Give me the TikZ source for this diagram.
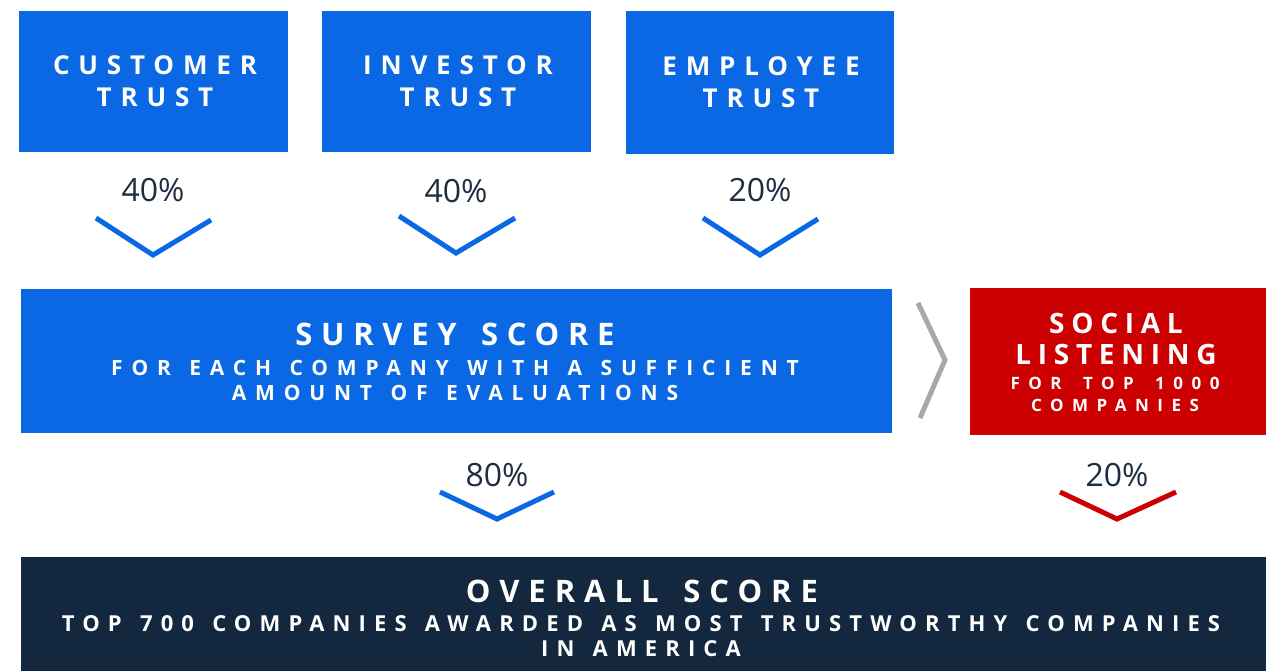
\documentclass[tikz,border=0pt]{standalone}
\usepackage{fontspec}
\setmainfont{Open Sans}
\definecolor{tblue}{HTML}{0A68E5}
\definecolor{tred}{HTML}{CC0000}
\definecolor{tnavy}{HTML}{13273F}
\definecolor{tgray}{HTML}{A8A8A8}
\definecolor{ttext}{HTML}{1E2D40}
\newcommand{\lsp}[3]{\fontsize{#1}{#1}\selectfont\bfseries\addfontfeature{LetterSpace=#2}#3}
\newcommand{\ws}[1]{\hspace{#1em}}
\tikzset{
  box/.style={draw=none, inner sep=0pt, anchor=north west},
  lbl/.style={anchor=base, inner sep=0pt, text=white},
  pct/.style={anchor=base, inner sep=0pt, text=ttext, font=\fontsize{32}{32}\selectfont},
  chev/.style={line width=5pt, line cap=butt, line join=miter},
}
\begin{document}
\begin{tikzpicture}[x=1pt,y=-1pt]
\useasboundingbox (0,0) rectangle (1271,671);
% top boxes
\node[box, fill=tblue, minimum width=269pt, minimum height=141pt] (cust) at (19,11) {};
\node[box, fill=tblue, minimum width=269pt, minimum height=141pt] (inv) at (322,11) {};
\node[box, fill=tblue, minimum width=268pt, minimum height=143pt] (emp) at (626,11) {};
\node[lbl] (cust1) at (155,75) {\lsp{26}{34}{CUSTOMER}};
\node[lbl] (cust2) at (155,107) {\lsp{26}{34}{TRUST}};
\node[lbl] (inv1) at (458,75) {\lsp{26}{34}{INVESTOR}};
\node[lbl] (inv2) at (458,107) {\lsp{26}{34}{TRUST}};
\node[lbl] (emp1) at (761,76) {\lsp{26}{34}{EMPLOYEE}};
\node[lbl] (emp2) at (761,108) {\lsp{26}{34}{TRUST}};
% percentages
\node[pct] (p1) at (153,201) {40\%};
\node[pct] (p2) at (456,203) {40\%};
\node[pct] (p3) at (760,201) {20\%};
% chevrons
\coordinate (c1a) at (96,218); \coordinate (c1b) at (153,255); \coordinate (c1c) at (211,220);
\coordinate (c2a) at (399,216); \coordinate (c2b) at (456,253); \coordinate (c2c) at (515,218);
\coordinate (c3a) at (703,218); \coordinate (c3b) at (760,255); \coordinate (c3c) at (818,219);
\draw[chev, tblue] (c1a) -- (c1b) -- (c1c);
\draw[chev, tblue] (c2a) -- (c2b) -- (c2c);
\draw[chev, tblue] (c3a) -- (c3b) -- (c3c);
% survey
\node[box, fill=tblue, minimum width=871pt, minimum height=144pt] (survey) at (21,289) {};
\node[lbl] (s1) at (455,345) {\lsp{31}{28}{SURVEY \ws{0.25}SCORE}};
\node[lbl] (s2) at (455,375) {\lsp{21}{42}{FOR \ws{0.2}EACH \ws{0.2}COMPANY \ws{0.2}WITH \ws{0.2}A \ws{0.2}SUFFICIENT}};
\node[lbl] (s3) at (455,400) {\lsp{21}{42}{AMOUNT \ws{0.2}OF \ws{0.2}EVALUATIONS}};
% gray chevron
\coordinate (g1) at (918,303); \coordinate (g2) at (945,360); \coordinate (g3) at (920,418);
\draw[chev, tgray] (g1) -- (g2) -- (g3);
% social
\node[box, fill=tred, minimum width=296pt, minimum height=147pt] (social) at (970,288) {};
\node[lbl] (so1) at (1116,333) {\lsp{28}{24}{SOCIAL}};
\node[lbl] (so2) at (1116,364) {\lsp{28}{24}{LISTENING}};
\node[lbl] (so3) at (1115,389) {\lsp{17}{50}{FOR \ws{0.5}TOP \ws{0.5}1000}};
\node[lbl] (so4) at (1115,411) {\lsp{17}{50}{COMPANIES}};
% lower percentages
\node[pct] (p4) at (497,486) {80\%};
\node[pct] (p5) at (1117,486) {20\%};
\coordinate (c4a) at (440,492); \coordinate (c4b) at (497,519); \coordinate (c4c) at (554,492);
\coordinate (c5a) at (1060,492); \coordinate (c5b) at (1117,519); \coordinate (c5c) at (1176,492);
\draw[chev, tblue] (c4a) -- (c4b) -- (c4c);
\draw[chev, tred] (c5a) -- (c5b) -- (c5c);
% overall
\node[box, fill=tnavy, minimum width=1245pt, minimum height=114pt] (overall) at (21,557) {};
\node[lbl] (o1) at (642,602) {\lsp{31}{29}{OVERALL \ws{0.25}SCORE}};
\node[lbl] (o2) at (641,631) {\lsp{22}{37}{TOP \ws{0.2}700 \ws{0.2}COMPANIES \ws{0.2}AWARDED \ws{0.2}AS \ws{0.2}MOST \ws{0.2}TRUSTWORTHY \ws{0.2}COMPANIES}};
\node[lbl] (o3) at (641,656) {\lsp{22}{37}{IN \ws{0.2}AMERICA}};
\end{tikzpicture}
\end{document}
